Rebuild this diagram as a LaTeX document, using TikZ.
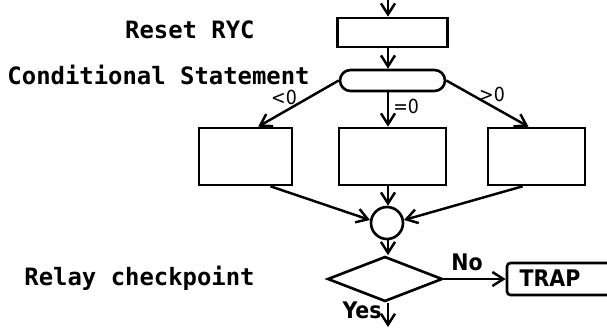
\documentclass[tikz,border=0pt]{standalone}
\usepackage{fontspec}
\setmonofont{DejaVu Sans Mono}
\newfontfamily\condfont{DejaVu Sans Condensed}
\usetikzlibrary{shapes.misc, shapes.geometric, arrows.meta, positioning}
\tikzset{
  >={Straight Barb[length=2.2mm, width=2.8mm]},
  flowarrow/.style={->, line width=1.4pt, black},
}

\begin{document}
\begin{tikzpicture}[
    procbox/.style={rectangle, draw, line width=1.5pt, minimum height=1.14cm, inner sep=0pt},
    condbox/.style={rounded rectangle, draw, line width=1.5pt, minimum width=2.1cm, minimum height=0.42cm, inner sep=0pt},
    sidelabel/.style={font=\ttfamily\bfseries\fontsize{13.6}{15}\selectfont, anchor=east, inner sep=0pt},
    armlabel/.style={font=\condfont\bfseries\fontsize{13}{15}\selectfont, inner sep=0pt},
    marklabel/.style={font=\condfont\fontsize{11}{13}\selectfont, inner sep=0pt}
]
    \useasboundingbox (0, 0) rectangle (12.14, 6.54);
    \clip (0, 0) rectangle (12.14, 6.54);

    % Entry and reset
    \coordinate (top) at (7.76, 6.54);
    \node[procbox, minimum width=2.2cm, minimum height=0.58cm] (reset) at (7.85, 5.89) {};
    \node[sidelabel] (resetlbl) at (5.1, 5.94) {Reset RYC};
    \draw[flowarrow] (top) -- (reset.north -| top);

    % Conditional statement
    \node[condbox] (cond) at (7.85, 4.93) {};
    \node[sidelabel] (condlbl) at (6.2, 5.05) {Conditional Statement};
    \draw[flowarrow] (reset.south -| top) -- (cond.north -| top);

    % Three branches
    \node[procbox, minimum width=1.86cm] (lbox) at (4.91, 3.41) {};
    \node[procbox, minimum width=2.14cm] (mbox) at (7.85, 3.41) {};
    \node[procbox, minimum width=1.94cm] (rbox) at (10.73, 3.41) {};

    \draw[flowarrow] (cond.west) -- (lbox.67);
    \draw[flowarrow] (cond.south -| top) -- (mbox.north -| top);
    \draw[flowarrow] (cond.east) -- (rbox.105);

    \node[marklabel] (ltlbl) at (5.68, 4.6) {<0};
    \node[marklabel, anchor=west] (eqlbl) at (7.86, 4.42) {=0};
    \node[marklabel] (gtlbl) at (9.84, 4.66) {>0};

    % Join
    \node[circle, draw, line width=1.5pt, minimum size=0.64cm, inner sep=0pt] (join) at (7.74, 2.08) {};
    \draw[flowarrow] (lbox.-50) -- (join.170);
    \draw[flowarrow] (mbox.south -| top) -- (join.north -| top);
    \draw[flowarrow] (rbox.-115) -- (join.10);

    % Relay checkpoint
    \node[diamond, draw, line width=1.5pt, minimum width=2.3cm, minimum height=0.9cm, inner sep=0pt, aspect=2.5] (check) at (7.7, 0.96) {};
    \node[sidelabel] (checklbl) at (5.1, 0.98) {Relay checkpoint};
    \draw[flowarrow] (join.south -| top) -- (check.north -| top);

    \node[rectangle, draw, line width=1.5pt, rounded corners=2pt, minimum width=2.2cm, minimum height=0.64cm, inner sep=0pt] (trap) at (11.24, 0.96) {};
    \node[armlabel] (traplbl) at (11.0, 0.97) {TRAP};
    \draw[flowarrow] (check.east) -- (trap.west);
    \node[armlabel] (nolbl) at (9.34, 1.3) {No};

    \coordinate (bottom) at (7.76, 0);
    \draw[flowarrow] (check.south -| top) -- (bottom);
    \node[armlabel, anchor=east] (yeslbl) at (7.64, 0.34) {Yes};
\end{tikzpicture}
\end{document}
